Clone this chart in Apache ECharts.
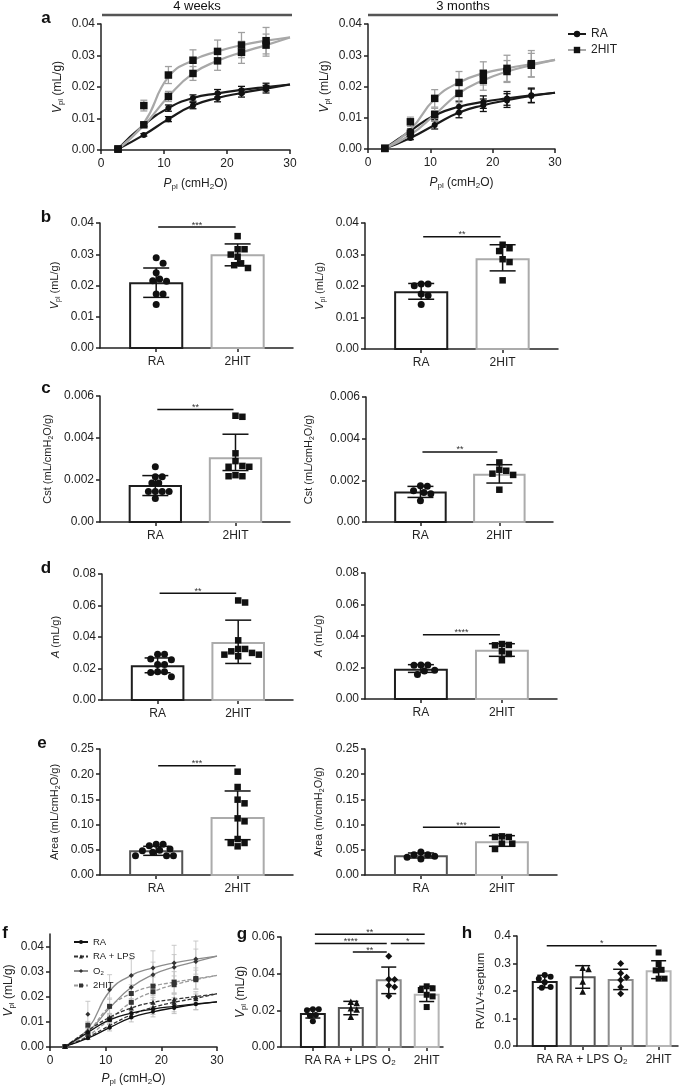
<!DOCTYPE html>
<html><head><meta charset="utf-8">
<script src="https://cdn.jsdelivr.net/npm/echarts@6/dist/echarts.min.js"></script>
<style>html,body{margin:0;padding:0;background:#fff}#c{width:685px;height:1087px}</style>
</head><body><div id="c"></div><script>
const FONT = '"Liberation Sans", Arial, Helvetica, sans-serif';
const INK = '#222';

// ================= DATA =================
// pressure points (cmH2O) and fitted-curve abscissae
const pressures = [2.7, 6.8, 10.7, 14.6, 18.5, 22.3, 26.2];
const curveP = [2.7, 6.8, 10.7, 14.6, 18.5, 22.3, 26.2, 30];

// a: 4 weeks
const w4RAinfMean = [0.0003,0.0048,0.0098,0.0141,0.0165,0.0180,0.0193];
const w4RAinfErr  = [0.0002,0.0004,0.0008,0.0010,0.0012,0.0012,0.0012];
const w4RAinfFit  = [0.0003,0.0048,0.0098,0.0141,0.0165,0.0181,0.0195,0.0208];
const w4RAdefMean = [0.0003,0.0080,0.0133,0.0165,0.0180,0.0190,0.0200];
const w4RAdefErr  = [0.0002,0.0005,0.0010,0.0010,0.0012,0.0012,0.0012];
const w4RAdefFit  = [0.0003,0.0080,0.0133,0.0165,0.0180,0.0191,0.0200,0.0208];
const w4HITinfMean = [0.0003,0.0080,0.0170,0.0243,0.0283,0.0310,0.0333];
const w4HITinfErr  = [0.0002,0.0006,0.0016,0.0022,0.0030,0.0035,0.0035];
const w4HITinfFit  = [0.0003,0.0078,0.0170,0.0243,0.0283,0.0310,0.0333,0.0357];
const w4HITdefMean = [0.0003,0.0141,0.0238,0.0285,0.0313,0.0333,0.0347];
const w4HITdefErr  = [0.0002,0.0017,0.0027,0.0033,0.0036,0.0040,0.0042];
const w4HITdefFit  = [0.0003,0.0085,0.0232,0.0285,0.0313,0.0333,0.0347,0.0358];

// a: 3 months (also RA and 2HIT in f)
const m3RAinfMean = [0.0002,0.0035,0.0077,0.0117,0.0140,0.0155,0.0170];
const m3RAinfErr  = [0.0002,0.0005,0.0013,0.0017,0.0020,0.0022,0.0022];
const m3RAinfFit  = [0.0002,0.0035,0.0077,0.0117,0.0140,0.0156,0.0170,0.0180];
const m3RAdefMean = [0.0002,0.0058,0.0108,0.0135,0.0150,0.0162,0.0172];
const m3RAdefErr  = [0.0002,0.0006,0.0013,0.0018,0.0020,0.0022,0.0023];
const m3RAdefFit  = [0.0002,0.0058,0.0108,0.0135,0.0151,0.0162,0.0172,0.0180];
const m3HITinfMean = [0.0002,0.0050,0.0110,0.0178,0.0220,0.0248,0.0268];
const m3HITinfErr  = [0.0002,0.0008,0.0020,0.0030,0.0032,0.0035,0.0038];
const m3HITinfFit  = [0.0002,0.0045,0.0110,0.0178,0.0220,0.0248,0.0268,0.0285];
const m3HITdefMean = [0.0002,0.0087,0.0162,0.0213,0.0242,0.0258,0.0273];
const m3HITdefErr  = [0.0002,0.0015,0.0028,0.0035,0.0037,0.0042,0.0042];
const m3HITdefFit  = [0.0002,0.0062,0.0160,0.0213,0.0242,0.0258,0.0272,0.0285];

// f: RA + LPS and O2
const fLPSinfMean = [0.0002,0.0040,0.0085,0.0128,0.0158,0.0178,0.0193];
const fLPSinfErr  = [0.0002,0.0008,0.0012,0.0015,0.0018,0.0018,0.0018];
const fLPSinfFit  = [0.0002,0.0040,0.0085,0.0128,0.0158,0.0178,0.0194,0.0212];
const fLPSdefMean = [0.0002,0.0065,0.0118,0.0155,0.0178,0.0190,0.0200];
const fLPSdefErr  = [0.0002,0.0010,0.0014,0.0018,0.0020,0.0020,0.0020];
const fLPSdefFit  = [0.0002,0.0065,0.0118,0.0155,0.0178,0.0190,0.0201,0.0212];
const fO2infMean = [0.0002,0.0060,0.0160,0.0238,0.0288,0.0318,0.0340];
const fO2infErr  = [0.0002,0.0020,0.0035,0.0045,0.0050,0.0050,0.0050];
const fO2infFit  = [0.0002,0.0060,0.0155,0.0238,0.0288,0.0318,0.0340,0.0362];
const fO2defMean = [0.0002,0.0130,0.0228,0.0285,0.0315,0.0335,0.0350];
const fO2defErr  = [0.0002,0.0052,0.0060,0.0065,0.0068,0.0070,0.0072];
const fO2defFit  = [0.0002,0.0072,0.0222,0.0285,0.0315,0.0335,0.0350,0.0362];

// bar panels: categories
const twoGroups = ['RA', '2HIT'];
const fourGroups = ['RA', 'RA + LPS', 'O{s|2}', '2HIT'];

// b: Vpl
const bW4RA  = [0.0289,0.0271,0.0241,0.0221,0.0215,0.0214,0.0173,0.0173,0.0139];
const bW4HIT = [0.0358,0.0316,0.0316,0.0299,0.0292,0.0271,0.0265,0.0256];
const bW4Mean = [0.0207,0.0297], bW4Lo = [0.0162,0.0263], bW4Hi = [0.0256,0.0333];
const bM3RA  = [0.0206,0.0201,0.0206,0.0175,0.0170,0.0141];
const bM3HIT = [0.0331,0.0320,0.0311,0.0285,0.0276,0.0218];
const bM3Mean = [0.0180,0.0285], bM3Lo = [0.0158,0.0248], bM3Hi = [0.0208,0.0331];
// c: Cst
const cW4RA  = [0.00263,0.00215,0.00215,0.00186,0.00186,0.00145,0.00145,0.00145,0.00145,0.00112];
const cW4HIT = [0.00506,0.00501,0.00327,0.00290,0.00263,0.00263,0.00267,0.00223,0.00218,0.00218];
const cW4Mean = [0.00172,0.00304], cW4Lo = [0.00126,0.00245], cW4Hi = [0.00221,0.00418];
const cM3RA  = [0.00174,0.00172,0.00150,0.00142,0.00136,0.00102];
const cM3HIT = [0.00286,0.00251,0.00246,0.00232,0.00226,0.00155];
const cM3Mean = [0.00142,0.00227], cM3Lo = [0.00118,0.00187], cM3Hi = [0.00171,0.00275];
// d: A
const dW4RA  = [0.0290,0.0290,0.0260,0.0255,0.0225,0.0225,0.0180,0.0175,0.0180,0.0148];
const dW4HIT = [0.0632,0.0619,0.0379,0.0324,0.0324,0.0309,0.0288,0.0278,0.0288,0.0299];
const dW4Mean = [0.0215,0.0362], dW4Lo = [0.0173,0.0232], dW4Hi = [0.0267,0.0507];
const dM3RA  = [0.0216,0.0214,0.0216,0.0182,0.0178,0.0155];
const dM3HIT = [0.0349,0.0341,0.0343,0.0303,0.0286,0.0246];
const dM3Mean = [0.0186,0.0307], dM3Lo = [0.0169,0.0271], dM3Hi = [0.0218,0.0351];
// e: Area
const eW4RA  = [0.0516,0.0582,0.0609,0.0609,0.0450,0.0384,0.0384,0.0384,0.0483,0.0490];
const eW4HIT = [0.205,0.1746,0.1495,0.1422,0.1124,0.1065,0.0635,0.0569,0.0635,0.0714];
const eW4Mean = [0.0470,0.1131], eW4Lo = [0.0390,0.0701], eW4Hi = [0.0569,0.1667];
const eM3RA  = [0.0403,0.0370,0.0317,0.0350,0.0403,0.0456];
const eM3HIT = [0.0754,0.0754,0.0767,0.0622,0.0622,0.0516];
const eM3Mean = [0.0370,0.0648], eM3Lo = [0.0337,0.0569], eM3Hi = [0.0437,0.0780];
// g: Vpl, four groups
const gLPS = [0.0247,0.0240,0.0212,0.0205,0.0165];
const gO2  = [0.0495,0.0370,0.0368,0.0336,0.0327,0.0278];
const gMean = [0.0180,0.0213,0.0364,0.0285], gLo = [0.0158,0.0176,0.0291,0.0248], gHi = [0.0208,0.0249,0.0436,0.0331];
// h: RV/LV+septum
const hRA  = [0.258,0.252,0.245,0.232,0.215,0.212];
const hLPS = [0.285,0.280,0.235,0.198];
const hO2  = [0.300,0.265,0.250,0.240,0.215,0.190];
const hHIT = [0.340,0.298,0.277,0.275,0.245,0.245];
const hMean = [0.233,0.250,0.240,0.272], hLo = [0.212,0.210,0.205,0.245], hHi = [0.257,0.292,0.279,0.310];

// significance annotations: [group i, group j, height, stars]
const sigB4 = [[0,1,0.0387,'***']], sigB3 = [[0,1,0.0356,'**']];
const sigC4 = [[0,1,0.00536,'**']], sigC3 = [[0,1,0.00336,'**']];
const sigD4 = [[0,1,0.0678,'**']],  sigD3 = [[0,1,0.0408,'****']];
const sigE4 = [[0,1,0.2169,'***']], sigE3 = [[0,1,0.0946,'***']];
const sigG = [[0,3,0.0615,'**'],[0,2,0.0564,'****'],[2,3,0.0564,'*'],[1,2,0.0518,'**']];
const sigH = [[0,3,0.3645,'*']];

// ================= BUILD =================
function rich(fs){
  return {
    i:{fontStyle:'italic',fontSize:fs,fontFamily:FONT,color:INK,lineHeight:fs+3},
    s:{fontSize:Math.round(fs*0.68),fontFamily:FONT,color:INK,verticalAlign:'bottom',lineHeight:Math.round(fs*0.68)}
  };
}
const option = {animation:false, textStyle:{fontFamily:FONT}, grid:[], xAxis:[], yAxis:[], series:[], legend:[], graphic:[]};

function common(){
  return {
    axisLine:{show:true,onZero:false,lineStyle:{color:INK,width:1.5}},
    axisTick:{show:true,length:4,lineStyle:{color:INK,width:1.5}},
    splitLine:{show:false}
  };
}
function yAx(min,max,interval,fmt,name,gap,fs,custom){
  const a = Object.assign({type:'value',min,max}, common());
  if (interval) a.interval = interval;
  a.axisLabel = {color:INK,fontSize:12,fontFamily:FONT,margin:6,formatter:fmt};
  if (custom){ a.axisLabel.customValues = custom; a.axisTick.customValues = custom; }
  a.name = name; a.nameLocation = 'middle'; a.nameGap = gap;
  a.nameTextStyle = {color:INK,fontSize:fs,fontFamily:FONT,lineHeight:fs+3,rich:rich(fs)};
  return a;
}
function addGrid(rect, xa, ya){
  const gi = option.grid.length;
  option.grid.push({left:rect[0],top:rect[1],width:rect[2],height:rect[3]});
  xa.gridIndex = gi; ya.gridIndex = gi;
  option.xAxis.push(xa); option.yAxis.push(ya);
  return gi;
}

// beeswarm offsets in pixels
function swarm(vals, pxPerVal, d){
  const order = vals.map((v,i)=>i).sort((a,b)=>vals[b]-vals[a]);
  const placed = [], off = new Array(vals.length).fill(0);
  for (const i of order){
    const y = vals[i]*pxPerVal;
    for (let k=0;k<60;k++){
      const c = k===0 ? 0 : (k%2 ? 1 : -1)*Math.ceil(k/2)*d*0.5;
      if (placed.every(p => Math.hypot(p.x-c, p.y-y) >= d*0.98)){ off[i]=c; placed.push({x:c,y}); break; }
    }
  }
  return off;
}

function barPanel(p){
  const xa = Object.assign({type:'value',min:p.xmin,max:p.xmax}, common());
  const cats = p.labels.map((l,i)=>i);
  xa.axisLabel = {color:INK,fontSize:12,fontFamily:FONT,margin:8,customValues:cats,
    formatter:v=>p.labels[Math.round(v)], rich:rich(12)};
  xa.axisTick.customValues = cats;
  const ya = yAx(p.ymin,p.ymax,p.interval,p.fmt,p.yName,p.gap,p.nameFs||11,p.custom);
  const gi = addGrid(p.rect, xa, ya);
  const pxX = p.rect[2]/(p.xmax-p.xmin), pxY = p.rect[3]/(p.ymax-p.ymin);
  const bw = p.barW;
  // bars
  option.series.push({type:'custom',xAxisIndex:gi,yAxisIndex:gi,z:1,silent:true,
    data:p.mean.map((m,k)=>[k,m]),
    renderItem:(params,api)=>{
      const k=api.value(0), m=api.value(1);
      const a=api.coord([k,0]), b=api.coord([k,m]);
      const half=bw*pxX/2;
      return {type:'rect',shape:{x:a[0]-half,y:b[1],width:2*half,height:a[1]-b[1]},
        style:{fill:'#fff',stroke:p.colors[k],lineWidth:p.barLW||2}};
    }});
  // points
  p.points.forEach((vals,k)=>{
    const off = swarm(vals, pxY, p.dot+0.4);
    option.series.push({type:'scatter',xAxisIndex:gi,yAxisIndex:gi,z:3,silent:true,
      symbol:p.shapes[k],symbolSize:p.shapeSize[k],itemStyle:{color:'#111',opacity:1},
      data:vals.map((v,i)=>[k+off[i]/pxX, v])});
  });
  // error bars
  option.series.push({type:'custom',xAxisIndex:gi,yAxisIndex:gi,z:4,silent:true,
    data:p.mean.map((m,k)=>[k,m,p.lo[k],p.hi[k]]),
    renderItem:(params,api)=>{
      const k=api.value(0);
      const t=api.coord([k,api.value(3)]), b=api.coord([k,api.value(2)]);
      const c=p.cap, st={stroke:'#111',lineWidth:1.5};
      return {type:'group',children:[
        {type:'line',shape:{x1:t[0],y1:t[1],x2:b[0],y2:b[1]},style:st},
        {type:'line',shape:{x1:t[0]-c,y1:t[1],x2:t[0]+c,y2:t[1]},style:st},
        {type:'line',shape:{x1:b[0]-c,y1:b[1],x2:b[0]+c,y2:b[1]},style:st}]};
    }});
  // significance
  option.series.push({type:'custom',xAxisIndex:gi,yAxisIndex:gi,z:4,silent:true,clip:false,
    data:p.sig.map(s=>[s[0],s[1],s[2],s[3]]),
    renderItem:(params,api)=>{
      const s=p.sig[params.dataIndex];
      const a=api.coord([s[0],s[2]]), b=api.coord([s[1],s[2]]);
      return {type:'group',children:[
        {type:'line',shape:{x1:a[0]+2,y1:a[1],x2:b[0]-2,y2:b[1]},style:{stroke:'#111',lineWidth:1.5}},
        {type:'text',x:(a[0]+b[0])/2,y:a[1]-2,style:{text:s[3],fontSize:9,fontFamily:FONT,fill:'#333',align:'center',verticalAlign:'middle'}}]};
    }});
  return gi;
}

function errRender(color,cap,lw){
  return (params,api)=>{
    const x=api.value(0), m=api.value(1), e=api.value(2);
    const t=api.coord([x,m+e]), b=api.coord([x,Math.max(0,m-e)]);
    const st={stroke:color,lineWidth:lw};
    return {type:'group',children:[
      {type:'line',shape:{x1:t[0],y1:t[1],x2:b[0],y2:b[1]},style:st},
      {type:'line',shape:{x1:t[0]-cap,y1:t[1],x2:t[0]+cap,y2:t[1]},style:st},
      {type:'line',shape:{x1:b[0]-cap,y1:b[1],x2:b[0]+cap,y2:b[1]},style:st}]};
  };
}

function linePanel(p){
  const xa = Object.assign({type:'value',min:0,max:30,interval:10}, common());
  xa.axisLabel = {color:INK,fontSize:12,fontFamily:FONT,margin:8};
  xa.name = '{i|P}{s|pl} (cmH{s|2}O)'; xa.nameLocation='middle'; xa.nameGap=p.xGap;
  xa.nameTextStyle = {color:INK,fontSize:12,fontFamily:FONT,lineHeight:15,rich:rich(12)};
  const ya = yAx(0,p.ymax,p.interval,v=>v.toFixed(2),'{i|V}{s|pl} (mL/g)',p.yGap,12,p.custom);
  const gi = addGrid(p.rect, xa, ya);
  p.groups.forEach(g=>{
    // error bars
    [[g.infMean,g.infErr],[g.defMean,g.defErr]].forEach(([m,e])=>{
      option.series.push({type:'custom',xAxisIndex:gi,yAxisIndex:gi,z:2,silent:true,
        data:pressures.map((x,i)=>[x,m[i],e[i]]),renderItem:errRender(g.errColor,g.cap,g.errLW)});
    });
    // fitted curves
    [[g.infFit,g.name+'-inf'],[g.defFit,g.name]].forEach(([f,nm])=>{
      option.series.push({type:'line',name:nm,xAxisIndex:gi,yAxisIndex:gi,z:3,silent:true,
        smooth:0.5,showSymbol:false,symbol:g.symbol,symbolSize:g.size,
        itemStyle:{color:g.symColor},
        lineStyle:{color:g.color,width:g.lw,type:g.dash||'solid'},
        data:curveP.map((x,i)=>[x,f[i]])});
    });
    // means
    [g.infMean,g.defMean].forEach(m=>{
      option.series.push({type:'scatter',xAxisIndex:gi,yAxisIndex:gi,z:4,silent:true,
        symbol:g.symbol,symbolSize:g.size,itemStyle:{color:g.symColor,opacity:1},
        data:pressures.map((x,i)=>[x,m[i]])});
    });
  });
  return gi;
}

// ---- a ----
const aRA = {name:'RA',color:'#1a1a1a',lw:2.2,symbol:'circle',size:6,symColor:'#111',errColor:'#111',cap:3.5,errLW:1.3};
const aHIT = {name:'2HIT',color:'#a8a8a8',lw:2.2,symbol:'rect',size:7.5,symColor:'#111',errColor:'#a0a0a0',cap:3.5,errLW:1.3};
linePanel({rect:[101,24,189,126],ymax:0.04,interval:0.01,xGap:26,yGap:36,groups:[
  Object.assign({},aRA,{name:'a4-RA',infMean:w4RAinfMean,infErr:w4RAinfErr,infFit:w4RAinfFit,defMean:w4RAdefMean,defErr:w4RAdefErr,defFit:w4RAdefFit}),
  Object.assign({},aHIT,{name:'a4-2HIT',infMean:w4HITinfMean,infErr:w4HITinfErr,infFit:w4HITinfFit,defMean:w4HITdefMean,defErr:w4HITdefErr,defFit:w4HITdefFit})]});
linePanel({rect:[368,24,187,125],ymax:0.04,interval:0.01,xGap:26,yGap:36,groups:[
  Object.assign({},aRA,{name:'RA',infMean:m3RAinfMean,infErr:m3RAinfErr,infFit:m3RAinfFit,defMean:m3RAdefMean,defErr:m3RAdefErr,defFit:m3RAdefFit}),
  Object.assign({},aHIT,{name:'2HIT',infMean:m3HITinfMean,infErr:m3HITinfErr,infFit:m3HITinfFit,defMean:m3HITdefMean,defErr:m3HITdefErr,defFit:m3HITdefFit})]});
option.legend.push({left:562,top:23,orient:'vertical',itemWidth:18,itemHeight:8,itemGap:4,selectedMode:false,
  data:['RA','2HIT'],textStyle:{color:INK,fontSize:12,fontFamily:FONT,lineHeight:12}});

// ---- bar panels ----
const colTwo = ['#1e1e1e','#ababab'];
const twoBase = {xmin:-0.69,xmax:1.68,labels:twoGroups,colors:colTwo,barW:0.64,cap:13,dot:6.5,shapes:['circle','rect'],shapeSize:[7,6.5]};
function two(rect, ymax, interval, fmt, name, gap, pts, mean, lo, hi, sig, extra){
  return barPanel(Object.assign({}, twoBase, {rect,ymin:0,ymax,interval,fmt,yName:name,gap,points:pts,mean,lo,hi,sig}, extra||{}));
}
const f2 = v=>v.toFixed(2);
const fC = v=>v===0?'0.00':v.toFixed(3);
two([100,223,193,125],0.04,0.01,f2,'{i|V}{s|pl} (mL/g)',38,[bW4RA,bW4HIT],bW4Mean,bW4Lo,bW4Hi,sigB4);
two([365,223,193,126],0.04,0.01,f2,'{i|V}{s|pl} (mL/g)',38,[bM3RA,bM3HIT],bM3Mean,bM3Lo,bM3Hi,sigB3);
two([100,396,190,126],0.006,0.002,fC,'Cst (mL/cmH{s|2}O/g)',45,[cW4RA,cW4HIT],cW4Mean,cW4Lo,cW4Hi,sigC4);
two([366,397,187,125],0.006,0.002,fC,'Cst (mL/cmH{s|2}O/g)',50,[cM3RA,cM3HIT],cM3Mean,cM3Lo,cM3Hi,sigC3);
two([102,574,191,126],0.08,0.02,f2,'{i|A} (mL/g)',39,[dW4RA,dW4HIT],dW4Mean,dW4Lo,dW4Hi,sigD4);
two([365,573,192,126],0.08,0.02,f2,'{i|A} (mL/g)',39,[dM3RA,dM3HIT],dM3Mean,dM3Lo,dM3Hi,sigD3);
two([100,749,193,126],0.25,0.05,f2,'Area (mL/cmH{s|2}O/g)',38,[eW4RA,eW4HIT],eW4Mean,eW4Lo,eW4Hi,sigE4,{colors:['#555','#ababab']});
two([365,749,192,126],0.25,0.05,f2,'Area (m/cmH{s|2}O/g)',39,[eM3RA,eM3HIT],eM3Mean,eM3Lo,eM3Hi,sigE3,{colors:['#555','#ababab']});

// ---- f ----
const fRA  = {name:'f-RA',color:'#111',lw:1.3,symbol:'circle',size:4,symColor:'#111',errColor:'#bbb',cap:2.5,errLW:0.9};
const fLPS = {name:'f-LPS',color:'#333',lw:1.3,dash:[4,2],symbol:'triangle',size:5,symColor:'#222',errColor:'#bbb',cap:2.5,errLW:0.9};
const fO2  = {name:'f-O2',color:'#8c8c8c',lw:1.3,symbol:'diamond',size:5,symColor:'#333',errColor:'#c4c4c4',cap:2.5,errLW:0.9};
const fHIT = {name:'f-2HIT',color:'#9a9a9a',lw:1.3,dash:[4,2],symbol:'rect',size:5,symColor:'#333',errColor:'#c4c4c4',cap:2.5,errLW:0.9};
linePanel({rect:[50,934,167,113],ymax:0.045,custom:[0,0.01,0.02,0.03,0.04],xGap:24,yGap:34,groups:[
  Object.assign({},fO2,{infMean:fO2infMean,infErr:fO2infErr,infFit:fO2infFit,defMean:fO2defMean,defErr:fO2defErr,defFit:fO2defFit}),
  Object.assign({},fHIT,{infMean:m3HITinfMean,infErr:m3HITinfErr,infFit:m3HITinfFit,defMean:m3HITdefMean,defErr:m3HITdefErr,defFit:m3HITdefFit}),
  Object.assign({},fLPS,{infMean:fLPSinfMean,infErr:fLPSinfErr,infFit:fLPSinfFit,defMean:fLPSdefMean,defErr:fLPSdefErr,defFit:fLPSdefFit}),
  Object.assign({},fRA,{infMean:m3RAinfMean,infErr:m3RAinfErr,infFit:m3RAinfFit,defMean:m3RAdefMean,defErr:m3RAdefErr,defFit:m3RAdefFit})]});
const fLegendNames = {'f-RA':'RA','f-LPS':'RA + LPS','f-O2':'O{s|2}','f-2HIT':'2HIT'};
option.legend.push({left:68,top:932,orient:'vertical',itemWidth:14,itemHeight:5,itemGap:4.5,selectedMode:false,
  data:['f-RA','f-LPS','f-O2','f-2HIT'],formatter:n=>fLegendNames[n],
  textStyle:{color:INK,fontSize:9.5,fontFamily:FONT,lineHeight:10,rich:rich(9.5)}});

// ---- g, h ----
const colFour = ['#1e1e1e','#555','#8a8a8a','#b5b5b5'];
const fourBase = {labels:fourGroups,colors:colFour,barW:0.63,cap:7.5,dot:5.5,barLW:2,
  shapes:['circle','triangle','diamond','rect'],shapeSize:[6,6.5,7,6],nameFs:12};
barPanel(Object.assign({},fourBase,{rect:[281,937,162,110],xmin:-0.84,xmax:3.43,ymin:0,ymax:0.06,interval:0.02,fmt:f2,
  yName:'{i|V}{s|pl} (mL/g)',gap:31,points:[bM3RA,gLPS,gO2,bM3HIT],mean:gMean,lo:gLo,hi:gHi,sig:sigG}));
barPanel(Object.assign({},fourBase,{rect:[517,936,161,110],xmin:-0.73,xmax:3.51,ymin:0,ymax:0.4,interval:0.1,fmt:v=>v.toFixed(1),
  yName:'RV/LV+septum',gap:29,nameFs:11.5,points:[hRA,hLPS,hO2,hHIT],mean:hMean,lo:hLo,hi:hHi,sig:sigH}));

// ---- decorations: period headers and panel letters ----
function txt(x,y,t,fs,bold){
  return {type:'text',x,y,silent:true,style:{text:t,fontSize:fs,fontWeight:bold?'bold':'normal',fontFamily:FONT,fill:'#111',align:'center',verticalAlign:'middle'}};
}
option.graphic.push(
  {type:'line',silent:true,shape:{x1:102,y1:15,x2:292,y2:15},style:{stroke:'#555',lineWidth:2.5}},
  {type:'line',silent:true,shape:{x1:368,y1:15,x2:558,y2:15},style:{stroke:'#555',lineWidth:2.5}},
  txt(197,6,'4 weeks',13), txt(463,6,'3 months',13),
  txt(46,18,'a',17,true), txt(46,217,'b',17,true), txt(46,388,'c',17,true), txt(46,568,'d',17,true),
  txt(42,743,'e',17,true), txt(5,933,'f',17,true), txt(242,934,'g',17,true), txt(467,933,'h',17,true)
);

const chart = echarts.init(document.getElementById('c'), null, {renderer:'canvas'});
chart.setOption(option);
</script></body></html>
